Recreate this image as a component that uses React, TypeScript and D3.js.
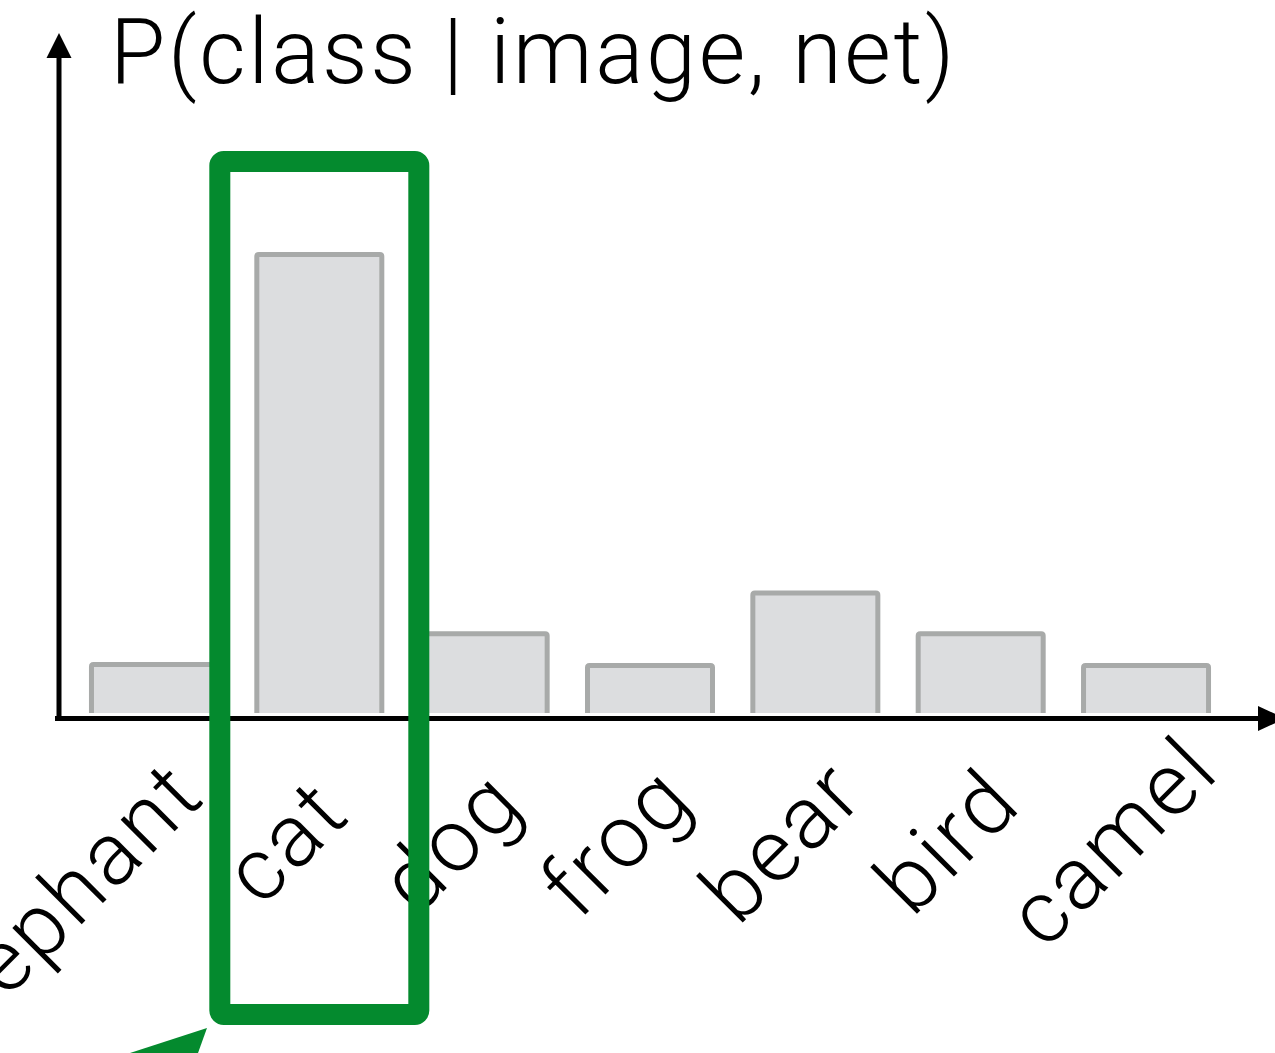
import React from "react";
import * as d3 from "d3";

const categories = ["elephant", "cat", "dog", "frog", "bear", "bird", "camel"];
const probabilities = [0.055, 0.52, 0.09, 0.054, 0.136, 0.09, 0.054];
const title = "P(class | image, net)";
const highlighted = "cat";

const W = 1275;
const H = 1053;
const GREEN = "#048a2e";
const FONT = "Roboto, 'Liberation Sans', sans-serif";

export default function App() {
  const baseY = 713;
  const axisY = 718.5;
  const axisX = 59;
  const x = d3
    .scaleBand<string>()
    .domain(categories)
    .range([71.3, 1228.7])
    .paddingInner(0.244)
    .paddingOuter(0.122);
  const y = d3.scaleLinear().domain([0, 1]).range([baseY, baseY - 881.7]);

  const hIdx = categories.indexOf(highlighted);
  const hx = x(highlighted)! + x.bandwidth() / 2;
  const hw = 199;
  const boxLeft = hx - hw / 2 - 10.5;

  return (
    <svg
      width={W}
      height={H}
      viewBox={`0 0 ${W} ${H}`}
      style={{ position: "absolute", left: 0, top: 0, background: "#fff" }}
    >
      <text
        x={110}
        y={83}
        fontFamily={FONT}
        fontWeight={300}
        fontSize={90}
        letterSpacing={2.6}
        fill="#000"
      >
        {title}
      </text>
      {categories.map((c, i) => {
        const x0 = x(c)!;
        const x1 = x0 + x.bandwidth();
        const yt = y(probabilities[i]);
        const r = 2;
        const d = `M${x0},${baseY} L${x0},${yt + r} Q${x0},${yt} ${x0 + r},${yt} L${x1 - r},${yt} Q${x1},${yt} ${x1},${yt + r} L${x1},${baseY}`;
        return (
          <g key={c}>
            <rect x={x0} y={yt} width={x.bandwidth()} height={baseY - yt} fill="#dcdddf" />
            <path d={d} fill="none" stroke="#a8aaa9" strokeWidth={5} />
          </g>
        );
      })}
      <line x1={axisX} y1={56} x2={axisX} y2={axisY + 2.5} stroke="#000" strokeWidth={5} />
      <polygon points={`${axisX - 12.5},58 ${axisX + 12.5},58 ${axisX},33`} fill="#000" />
      <line x1={55} y1={axisY} x2={1260} y2={axisY} stroke="#000" strokeWidth={5} />
      <polygon points={`1258,${axisY - 12.5} 1258,${axisY + 12.5} 1285,${axisY}`} fill="#000" />
      {categories.map((c, i) => {
        const bx = x(c)! + x.bandwidth() / 2;
        let tx = bx - 12.5;
        let ty = 862.5;
        let anchor = "middle";
        if (i === hIdx - 1) {
          // label just left of the highlight box ends right at the box edge
          tx = boxLeft - 2;
          ty = bx + 852 - tx;
          anchor = "end";
        }
        return (
          <text
            key={c}
            transform={`translate(${tx},${ty}) rotate(-45)`}
            textAnchor={anchor}
            fontFamily={FONT}
            fontWeight={300}
            fontSize={88}
            letterSpacing={3}
            fill="#000"
          >
            {c}
          </text>
        );
      })}
      <rect
        x={hx - hw / 2}
        y={161.5}
        width={hw}
        height={853}
        rx={4}
        fill="none"
        stroke={GREEN}
        strokeWidth={21}
      />
      <polygon points={`130,1053 207,1028 198,1053`} fill={GREEN} />
    </svg>
  );
}
